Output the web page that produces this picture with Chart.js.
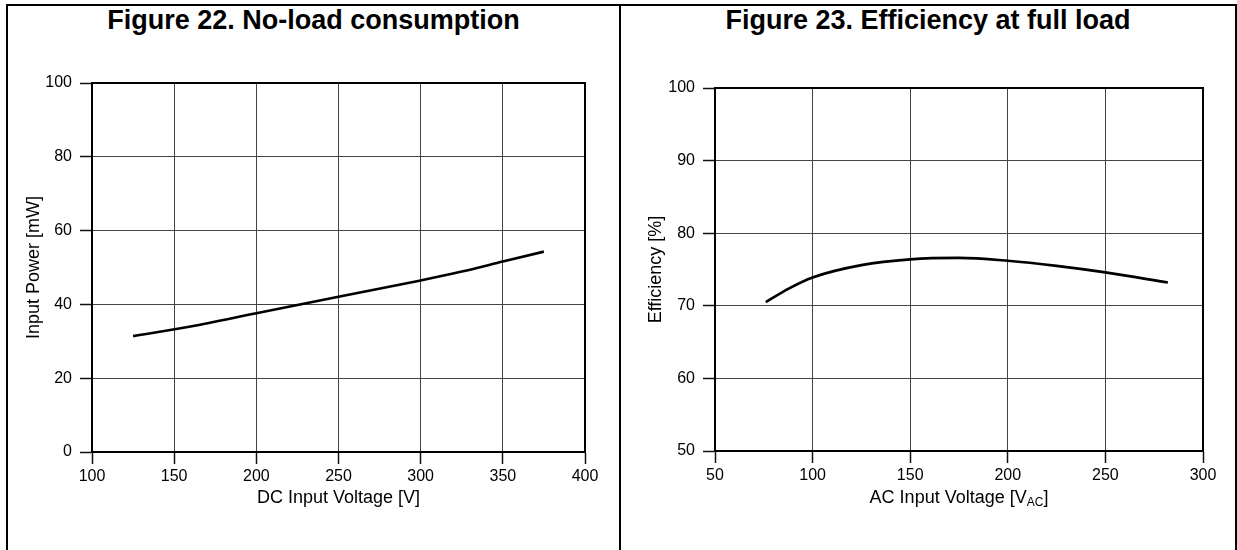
<!DOCTYPE html>
<html>
<head>
<meta charset="utf-8">
<script src="https://cdn.jsdelivr.net/npm/chart.js@4.4.1/dist/chart.umd.min.js"></script>
<style>
  body { margin: 0; background: #fff; font-family: "Liberation Sans", Arial, sans-serif; }
  #page { position: relative; width: 1237px; height: 550px; overflow: hidden; }
  .frame { position: absolute; left: 6px; top: 4px; width: 1231px; height: 600px; border: 2px solid #000; box-sizing: border-box; }
  .divider { position: absolute; left: 619px; top: 4px; width: 2px; height: 600px; background: #000; }
  .title { position: absolute; top: 5px; font-weight: bold; font-size: 27px; text-align: center; color: #000; }
  canvas { position: absolute; }
</style>
</head>
<body>
<div id="page">
  <div class="frame"></div>
  <div class="divider"></div>
  <div class="title" style="left:8px;width:611px">Figure 22. No-load consumption</div>
  <div class="title" style="left:621px;width:614px">Figure 23. Efficiency at full load</div>
  <canvas id="noLoadChart" width="610" height="510" style="left:8px;top:40px"></canvas>
  <canvas id="effChart" width="612" height="510" style="left:622px;top:40px"></canvas>
</div>
<script>
// Figure 22: no-load consumption
const dcVoltage = [125, 160, 200, 250, 300, 325, 350, 375];
const inputPower = [31.4, 34.0, 37.6, 42.1, 46.5, 48.9, 51.6, 54.3];
const dcTicks = [100, 400, 50];      // min, max, step
const powerTicks = [0, 100, 20];

// Figure 23: efficiency at full load
const acVoltage = [76, 88, 100, 125, 150, 175, 200, 225, 250, 282];
const efficiency = [70.5, 72.4, 73.9, 75.6, 76.4, 76.6, 76.2, 75.5, 74.6, 73.2];
const acTicks = [50, 300, 50];
const effTicks = [50, 100, 10];

const FONT = "'Liberation Sans', Arial, sans-serif";
const TICK_SIZE = 16;
const TITLE_SIZE = 18;
const SUB_SIZE = 12;

function axis(range, extra) {
  return Object.assign({
    type: "linear",
    min: range[0],
    max: range[1],
    grid: { color: "#444", lineWidth: 1, tickLength: 12, tickColor: "#111", tickWidth: 1.5 },
    border: { display: true, color: "#000", width: 2 }
  }, extra);
}

// frame and axis titles, drawn straight on the canvas
function labelsPlugin(yText, xText, yTitleX, xTitleY, sub) {
  return {
    id: "labels",
    afterDraw(chart) {
      const { ctx, chartArea: a } = chart;
      ctx.save();
      ctx.strokeStyle = "#000";
      ctx.lineWidth = 2;
      ctx.strokeRect(a.left, a.top, a.right - a.left, a.bottom - a.top);
      ctx.fillStyle = "#000";
      ctx.font = TITLE_SIZE + "px " + FONT;
      ctx.textBaseline = "middle";
      ctx.textAlign = "center";
      ctx.save();
      ctx.translate(yTitleX, (a.top + a.bottom) / 2);
      ctx.rotate(-Math.PI / 2);
      ctx.fillText(yText, 0, 0);
      ctx.restore();
      const cx = (a.left + a.right) / 2;
      if (!sub) {
        ctx.fillText(xText, cx, xTitleY);
      } else {
        const w1 = ctx.measureText(xText).width;
        ctx.font = SUB_SIZE + "px " + FONT;
        const w2 = ctx.measureText(sub).width;
        ctx.font = TITLE_SIZE + "px " + FONT;
        const w3 = ctx.measureText("]").width;
        let x = cx - (w1 + w2 + w3) / 2;
        ctx.textAlign = "left";
        ctx.fillText(xText, x, xTitleY);
        x += w1;
        ctx.font = SUB_SIZE + "px " + FONT;
        ctx.fillText(sub, x, xTitleY + 5);
        x += w2;
        ctx.font = TITLE_SIZE + "px " + FONT;
        ctx.fillText("]", x, xTitleY);
      }
      ctx.restore();
    }
  };
}

function makeChart(id, xs, ys, xRange, yRange, pad, yWidth, xHeight, plugin) {
  new Chart(document.getElementById(id), {
    type: "line",
    data: {
      datasets: [{
        data: xs.map((x, i) => ({ x: x, y: ys[i] })),
        borderColor: "#000",
        borderWidth: 2.6,
        pointRadius: 0,
        cubicInterpolationMode: "monotone",
        fill: false
      }]
    },
    options: {
      responsive: false,
      animation: false,
      layout: { padding: pad },
      scales: {
        x: axis(xRange, { position: "bottom", afterFit(s) { s.height = xHeight; },
          ticks: { stepSize: xRange[2], padding: 3, maxRotation: 0, color: "#000", font: { family: FONT, size: TICK_SIZE } } }),
        y: axis(yRange, { position: "left", afterFit(s) { s.width = yWidth; },
          ticks: { stepSize: yRange[2], padding: 8, color: "#000", font: { family: FONT, size: TICK_SIZE } } })
      },
      plugins: { legend: { display: false }, tooltip: { enabled: false }, title: { display: false } }
    },
    plugins: [plugin]
  });
}

makeChart("noLoadChart", dcVoltage, inputPower, dcTicks, powerTicks,
  { left: 0, top: 43, right: 33, bottom: 0 }, 84, 98,
  labelsPlugin("Input Power [mW]", "DC Input Voltage [V]", 26, 458));

makeChart("effChart", acVoltage, efficiency, acTicks, effTicks,
  { left: 0, top: 48, right: 31, bottom: 0 }, 93, 99,
  labelsPlugin("Efficiency [%]", "AC Input Voltage [V", 34, 458, "AC"));
</script>
</body>
</html>
